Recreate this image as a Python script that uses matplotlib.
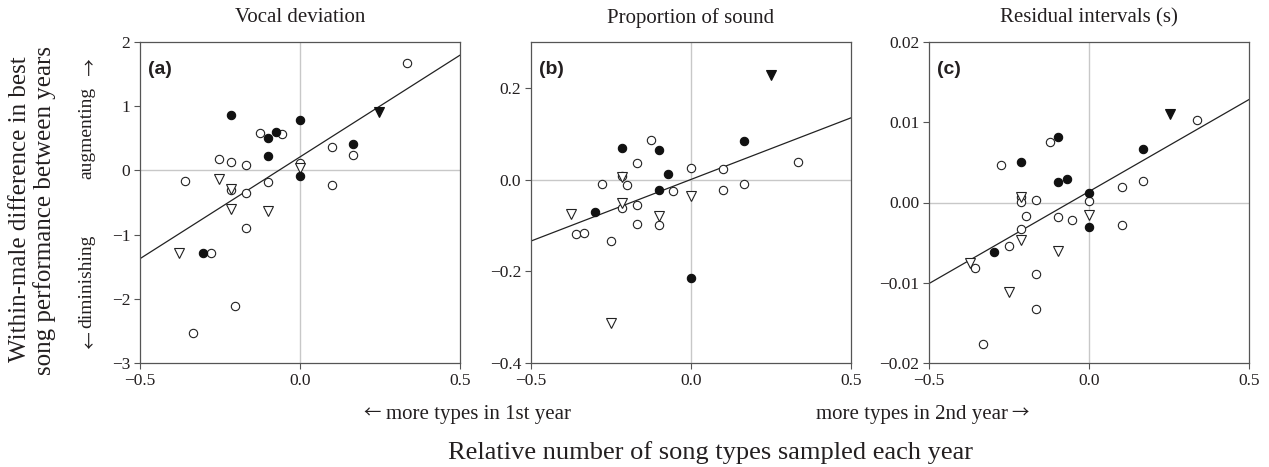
import matplotlib
matplotlib.use("Agg")
import matplotlib.pyplot as plt
import numpy as np

plt.rcParams['font.family'] = ['Liberation Serif', 'DejaVu Sans']
plt.rcParams['axes.unicode_minus'] = True

# ---------------- data ----------------
titles = ["Vocal deviation", "Proportion of sound", "Residual intervals (s)"]
panel_labels = ["(a)", "(b)", "(c)"]

# Panel (a)
a_open_x = [0.333, -0.125, -0.057, 0.099, 0.167, -0.252, -0.216, -0.169, 0.0, -0.358,
            -0.101, 0.099, -0.216, -0.169, -0.169, -0.279, -0.202, -0.335]
a_open_y = [1.68, 0.59, 0.56, 0.37, 0.24, 0.18, 0.13, 0.09, 0.11, -0.17,
            -0.18, -0.22, -0.30, -0.35, -0.90, -1.29, -2.11, -2.54]
a_fill_x = [-0.216, 0.0, -0.075, -0.101, 0.167, -0.101, 0.0, -0.302]
a_fill_y = [0.87, 0.78, 0.60, 0.51, 0.41, 0.22, -0.09, -1.29]
a_otri_x = [-0.252, -0.216, -0.216, -0.101, -0.377, 0.0]
a_otri_y = [-0.13, -0.29, -0.60, -0.63, -1.29, 0.03]
a_ftri_x = [0.248]
a_ftri_y = [0.91]
a_fit = (0.21, 3.17)  # intercept, slope

# Panel (b)
b_open_x = [-0.125, -0.168, 0.0, 0.334, 0.1, -0.215, -0.278, -0.201, -0.056, 0.1,
            0.167, -0.215, -0.168, -0.168, -0.1, -0.358, -0.333, -0.25]
b_open_y = [0.086, 0.036, 0.026, 0.038, 0.023, 0.007, -0.009, -0.011, -0.025, -0.022,
            -0.009, -0.063, -0.056, -0.097, -0.099, -0.119, -0.116, -0.135]
b_fill_x = [-0.215, -0.1, 0.167, -0.072, -0.1, -0.301, 0.0]
b_fill_y = [0.069, 0.065, 0.085, 0.013, -0.022, -0.070, -0.215]
b_otri_x = [-0.215, -0.215, -0.376, -0.1, 0.0, -0.25]
b_otri_y = [0.005, -0.052, -0.075, -0.079, -0.035, -0.313]
b_ftri_x = [0.251]
b_ftri_y = [0.227]
b_fit = (0.0003, 0.2687)

# Panel (c)
c_open_x = [0.336, -0.123, -0.276, 0.170, 0.103, -0.214, -0.214, -0.165, 0.0, -0.198,
            -0.098, -0.054, 0.103, -0.214, -0.249, -0.355, -0.165, -0.165, -0.332]
c_open_y = [0.01025, 0.00754, 0.00467, 0.00271, 0.00196, 0.00071, 0.00004, 0.00025, 0.0002,
            -0.00167, -0.00179, -0.00212, -0.00275, -0.00329, -0.00546, -0.00817,
            -0.00892, -0.01329, -0.01758]
c_fill_x = [-0.098, -0.214, -0.098, -0.07, 0.170, 0.0, 0.0, -0.298]
c_fill_y = [0.00821, 0.00504, 0.0025, 0.00292, 0.00671, 0.00121, -0.00304, -0.00613]
c_otri_x = [-0.214, -0.214, -0.098, -0.249, -0.373, 0.0]
c_otri_y = [0.0007, -0.0047, -0.006, -0.0111, -0.0075, -0.0015]
c_ftri_x = [0.252]
c_ftri_y = [0.011]
c_fit = (0.001365, 0.02293)

x_ticks = [-0.5, 0.0, 0.5]
x_ticklabels = ["\u22120.5", "0.0", "0.5"]
a_yticks = [-3, -2, -1, 0, 1, 2]
a_yticklabels = ["\u22123", "\u22122", "\u22121", "0", "1", "2"]
b_yticks = [-0.4, -0.2, 0.0, 0.2]
b_yticklabels = ["\u22120.4", "\u22120.2", "0.0", "0.2"]
c_yticks = [-0.02, -0.01, 0.0, 0.01, 0.02]
c_yticklabels = ["\u22120.02", "\u22120.01", "0.00", "0.01", "0.02"]
ylims = [(-3, 2), (-0.4, 0.3), (-0.02, 0.02)]

panels = [
    (a_open_x, a_open_y, a_fill_x, a_fill_y, a_otri_x, a_otri_y, a_ftri_x, a_ftri_y, a_fit,
     a_yticks, a_yticklabels),
    (b_open_x, b_open_y, b_fill_x, b_fill_y, b_otri_x, b_otri_y, b_ftri_x, b_ftri_y, b_fit,
     b_yticks, b_yticklabels),
    (c_open_x, c_open_y, c_fill_x, c_fill_y, c_otri_x, c_otri_y, c_ftri_x, c_ftri_y, c_fit,
     c_yticks, c_yticklabels),
]

# ---------------- figure ----------------
W, H = 1269, 467
fig = plt.figure(figsize=(W / 100, H / 100), dpi=100)
fig.patch.set_facecolor("white")

TXT = "#231f20"
SPINE = "#555555"
GRID = "#c8c8c8"
ARROW_FONT = ["Noto Sans CJK JP", "DejaVu Sans"]
ARROW_SIZE = 12.5

lefts = [140, 531, 929]
ax_w, ax_top, ax_bot = 320, 42, 363


def fx(px):
    return px / W


def fy(py):
    return 1 - py / H


for i, (ox, oy, fxs, fys, tx, ty, ftx, fty, fit, yt, ytl) in enumerate(panels):
    ax = fig.add_axes([fx(lefts[i]), (H - ax_bot) / H, ax_w / W, (ax_bot - ax_top) / H])
    ax.set_xlim(-0.5, 0.5)
    ax.set_ylim(*ylims[i])
    ax.axhline(0, color=GRID, lw=1.0, zorder=1)
    ax.axvline(0, color=GRID, lw=1.0, zorder=1)
    xx = np.array([-0.5, 0.5])
    ax.plot(xx, fit[0] + fit[1] * xx, color="#222222", lw=0.9, zorder=2)
    ax.plot(ox, oy, ls="none", marker="o", ms=6, mfc="white", mec="#222222", mew=0.8, zorder=3)
    ax.plot(tx, ty, ls="none", marker="v", ms=6.5, mfc="white", mec="#222222", mew=0.8, zorder=4)
    ax.plot(fxs, fys, ls="none", marker="o", ms=6, mfc="#111111", mec="#111111", mew=0.8, zorder=5)
    ax.plot(ftx, fty, ls="none", marker="v", ms=6.5, mfc="#111111", mec="#111111", mew=0.8, zorder=5)
    ax.set_xticks(x_ticks)
    ax.set_xticklabels(x_ticklabels)
    ax.set_yticks(yt)
    ax.set_yticklabels(ytl)
    ax.tick_params(direction="out", length=4, width=0.8, color=SPINE, labelsize=12.5,
                   labelcolor=TXT, pad=3)
    for sp in ax.spines.values():
        sp.set_color(SPINE)
        sp.set_linewidth(0.9)
    ax.text(0.025, 0.915, panel_labels[i], transform=ax.transAxes, family="Liberation Sans",
            fontweight="bold", fontsize=14, color=TXT, ha="left", va="center")
    fig.text(fx(lefts[i] + ax_w / 2), fy(18), titles[i], ha="center", va="center",
             fontsize=15, color=TXT)

# y-axis label block
fig.text(fx(20), fy(209), "Within-male difference in best", rotation=90,
         ha="center", va="center", fontsize=18, color=TXT)
fig.text(fx(45), fy(210), "song performance between years", rotation=90,
         ha="center", va="center", fontsize=18, color=TXT)
fig.text(fx(87), fy(133), "augmenting", rotation=90,
         ha="center", va="center", fontsize=14, color=TXT)
fig.text(fx(88), fy(70), "\u2191", ha="center", va="center", fontsize=ARROW_SIZE,
         family=ARROW_FONT, color=TXT)
fig.text(fx(87), fy(281), "diminishing", rotation=90,
         ha="center", va="center", fontsize=14, color=TXT)
fig.text(fx(88), fy(343), "\u2193", ha="center", va="center", fontsize=ARROW_SIZE,
         family=ARROW_FONT, color=TXT)

# x-axis label block
fig.text(fx(372), fy(414), "\u2190", ha="center", va="center", fontsize=ARROW_SIZE,
         family=ARROW_FONT, color=TXT)
fig.text(fx(386), fy(415), "more types in 1st year", ha="left", va="center",
         fontsize=15, color=TXT)
fig.text(fx(1008), fy(415), "more types in 2nd year", ha="right", va="center",
         fontsize=15, color=TXT)
fig.text(fx(1020), fy(414), "\u2192", ha="center", va="center", fontsize=ARROW_SIZE,
         family=ARROW_FONT, color=TXT)
fig.text(fx(710), fy(453), "Relative number of song types sampled each year",
         ha="center", va="center", fontsize=19, color=TXT)

fig.savefig("out.png", dpi=100, facecolor="white")
